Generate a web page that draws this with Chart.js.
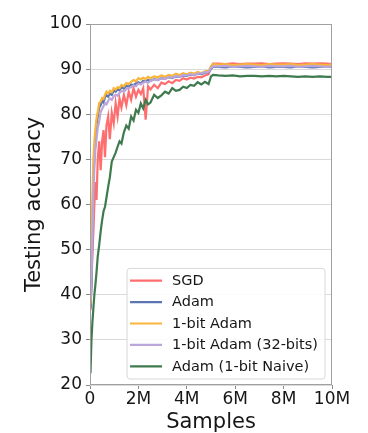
<!DOCTYPE html>
<html>
<head>
<meta charset="utf-8">
<script src="https://cdn.jsdelivr.net/npm/chart.js"></script>
<style>
  body { margin: 0; background: #fff; }
  canvas { display: block; }
</style>
</head>
<body>
<canvas id="accChart" width="368" height="433"></canvas>
<script>
// samples seen, in millions
const samples = [0.02, 0.06, 0.1, 0.14, 0.18, 0.22, 0.27, 0.32, 0.38, 0.44,
    0.5, 0.56, 0.62, 0.68, 0.75, 0.82, 0.9, 0.98, 1.06, 1.14,
    1.22, 1.3, 1.4, 1.5, 1.6, 1.7, 1.8, 1.9, 2.0, 2.1,
    2.2, 2.3, 2.4, 2.5, 2.65, 2.8, 2.95, 3.1, 3.25, 3.4,
    3.55, 3.7, 3.85, 4.0, 4.15, 4.3, 4.45, 4.6, 4.75, 4.9,
    5.0, 5.08, 5.3, 5.6, 5.9, 6.2, 6.5, 6.8, 7.1, 7.4,
    7.7, 8.0, 8.3, 8.6, 8.9, 9.2, 9.5, 9.8, 10.0];

const sgd = [36.5, 43, 49, 54, 60, 65, 61, 70, 74, 67.6,
    74, 76.5, 70.5, 77.5, 79.5, 74.5, 80.3, 78, 82.5, 79.5,
    83.5, 81.5, 84.3, 82, 85, 83.2, 85.8, 83.9, 85.4, 84.5,
    85.8, 78.8, 86.2, 85.5, 86.5, 85.8, 87, 86.7, 87.3, 86.9,
    87.6, 87.4, 88, 87.7, 88.1, 87.9, 88.3, 88.2, 88.6, 88.9,
    90.5, 91.2, 91.2, 91.1, 91.3, 91.1, 91.2, 91.2, 91.3, 91.1,
    91.2, 91.3, 91.2, 91.1, 91.3, 91.2, 91.3, 91.2, 91.1];

const adam = [37, 42, 55, 65, 71, 74, 77.5, 79.5, 81.5, 82,
    83, 82.6, 83.8, 84.2, 83.9, 84.6, 84.3, 85.2, 85, 85.5,
    85.3, 86, 85.7, 86.3, 86.1, 86.6, 86.4, 86.9, 87.1, 86.8,
    87.4, 87.2, 87.6, 87.4, 87.8, 87.6, 88, 87.9, 88.2, 88,
    88.4, 88.3, 88.6, 88.5, 88.8, 88.6, 89, 88.9, 89.2, 89.3,
    90, 90.5, 90.5, 90.4, 90.6, 90.5, 90.4, 90.5, 90.6, 90.4,
    90.5, 90.5, 90.4, 90.6, 90.5, 90.4, 90.5, 90.6, 90.5];

const oneBitAdam = [38, 50, 62, 70, 74, 76.5, 79, 80.5, 82.5, 82.8,
    83.6, 83.4, 84.3, 85, 84.6, 85.2, 84.9, 85.8, 85.5, 86,
    85.8, 86.5, 86.2, 86.9, 86.7, 87.2, 87.6, 87.3, 88, 87.7,
    88.1, 87.8, 88.3, 88, 88.4, 88.2, 88.6, 88.3, 88.7, 88.5,
    89, 88.7, 89.1, 88.8, 89.2, 89, 89.4, 89.1, 89.5, 89.6,
    90.6, 91.1, 91.0, 91.1, 90.9, 91.0, 91.1, 91.0, 90.9, 91.1,
    91.0, 91.0, 91.1, 90.9, 91.0, 91.1, 91.0, 90.9, 91.0];

const oneBitAdam32 = [39, 44, 52, 62, 68, 72, 74.5, 77, 78.5, 80.5,
    81.2, 81.8, 82.5, 82.2, 83, 83.5, 83.2, 84, 84.3, 84.1,
    84.7, 85.2, 85, 85.6, 85.8, 86, 86.4, 86.2, 86.8, 86.6,
    87, 87.2, 87, 87.4, 87.7, 87.5, 88, 87.8, 88.2, 88.1,
    88.5, 88.3, 88.7, 88.6, 88.9, 88.7, 89, 89.1, 89.3, 89.4,
    90.2, 90.6, 90.6, 90.7, 90.5, 90.6, 90.7, 90.6, 90.5, 90.7,
    90.6, 90.6, 90.7, 90.5, 90.6, 90.7, 90.6, 90.5, 90.6];

const adamNaive = [22.6, 30, 34, 37, 40, 42, 45, 48.5, 51, 54,
    56.5, 58.5, 59.5, 61.5, 63.9, 66, 69.5, 70.5, 71.5, 72.8,
    74, 73.5, 76, 77.5, 76.8, 79.5, 78.6, 81, 80.3, 82.4,
    81.3, 83.2, 82.2, 82.6, 84.3, 83.6, 84.2, 85, 84.6, 85.8,
    85.2, 85.4, 86.1, 85.8, 86.5, 86.3, 87.1, 86.6, 87.2, 86.7,
    88.4, 88.7, 88.6, 88.5, 88.6, 88.4, 88.5, 88.5, 88.4, 88.5,
    88.4, 88.5, 88.4, 88.3, 88.4, 88.3, 88.4, 88.3, 88.3];

const seriesLabels = ['SGD', 'Adam', '1-bit Adam', '1-bit Adam (32-bits)', 'Adam (1-bit Naive)'];
const seriesColors = ['#FF6E6E', '#5B74B2', '#F9B43A', '#BAA6DB', '#3E7A4E'];
const tickLabels = ['0', '2M', '4M', '6M', '8M', '10M'];

const allSeries = [sgd, adam, oneBitAdam, oneBitAdam32, adamNaive];
const font = 'DejaVu Sans';
const textColor = '#161616';

// legend inside plot, bottom right, drawn like matplotlib's
const insideLegend = {
    id: 'insideLegend',
    afterDraw(chart) {
        const ctx = chart.ctx;
        const area = chart.chartArea;
        ctx.save();
        ctx.font = '14.5px "' + font + '"';
        let textW = 0;
        chart.data.datasets.forEach(ds => { textW = Math.max(textW, ctx.measureText(ds.label).width); });
        const rowH = 21.4;
        const w = 3 + 32 + 10 + textW + 7;
        const h = 12.3 + rowH * 4 + 12.7;
        const x0 = area.right - 7 - w;
        const y0 = area.bottom - 6 - h;
        ctx.beginPath();
        ctx.roundRect(x0, y0, w, h, 3);
        ctx.fillStyle = 'rgba(255,255,255,0.85)';
        ctx.fill();
        ctx.strokeStyle = '#d8d8d8';
        ctx.lineWidth = 1;
        ctx.stroke();
        chart.data.datasets.forEach((ds, i) => {
            const y = y0 + 12.3 + i * rowH;
            ctx.beginPath();
            ctx.moveTo(x0 + 3, y);
            ctx.lineTo(x0 + 35, y);
            ctx.strokeStyle = ds.borderColor;
            ctx.lineWidth = 2.2;
            ctx.stroke();
            ctx.fillStyle = textColor;
            ctx.textBaseline = 'middle';
            ctx.textAlign = 'left';
            ctx.fillText(ds.label, x0 + 45, y + 0.5);
        });
        ctx.restore();
    }
};

// full box around the plot area
const plotFrame = {
    id: 'plotFrame',
    afterDatasetsDraw(chart) {
        const {ctx, chartArea: a} = chart;
        ctx.save();
        ctx.strokeStyle = '#a0a0a0';
        ctx.lineWidth = 1;
        ctx.strokeRect(a.left + 0.5, a.top + 0.5, a.right - a.left - 1, a.bottom - a.top - 1);
        ctx.restore();
    }
};

new Chart(document.getElementById('accChart'), {
    type: 'line',
    data: {
        datasets: allSeries.map((vals, i) => ({
            label: seriesLabels[i],
            data: vals.map((v, j) => ({x: samples[j], y: v})),
            borderColor: seriesColors[i],
            backgroundColor: seriesColors[i],
            borderWidth: 2.2,
            pointRadius: 0,
            tension: 0,
            fill: false,
            order: allSeries.length - i
        }))
    },
    options: {
        responsive: false,
        animation: false,
        devicePixelRatio: 1,
        layout: { padding: { top: 24, right: 36, bottom: 0, left: 0 } },
        plugins: {
            legend: { display: false },
            tooltip: { enabled: false }
        },
        scales: {
            x: {
                type: 'linear',
                min: 0,
                max: 10,
                afterFit(scale) { scale.height = 48; },
                ticks: {
                    stepSize: 2,
                    padding: 0,
                    maxRotation: 0,
                    color: textColor,
                    font: { family: font, size: 17 },
                    callback: (v, i) => tickLabels[i]
                },
                grid: { drawOnChartArea: false, drawTicks: true, tickLength: 4, tickColor: '#888' },
                border: { display: false },
                title: {
                    display: true,
                    text: 'Samples',
                    color: textColor,
                    font: { family: font, size: 21, lineHeight: 1 },
                    padding: { top: 0, bottom: 0 }
                }
            },
            y: {
                min: 20,
                max: 100,
                afterFit(scale) { scale.width = 90; },
                ticks: {
                    stepSize: 10,
                    padding: 4,
                    color: textColor,
                    font: { family: font, size: 17 }
                },
                grid: { color: '#dadada', lineWidth: 1, tickLength: 4, tickColor: '#888' },
                border: { display: false },
                title: {
                    display: true,
                    text: 'Testing accuracy',
                    color: textColor,
                    font: { family: font, size: 21, lineHeight: 1 },
                    padding: { top: 24, bottom: 0 }
                }
            }
        }
    },
    plugins: [plotFrame, insideLegend]
});
</script>
</body>
</html>
